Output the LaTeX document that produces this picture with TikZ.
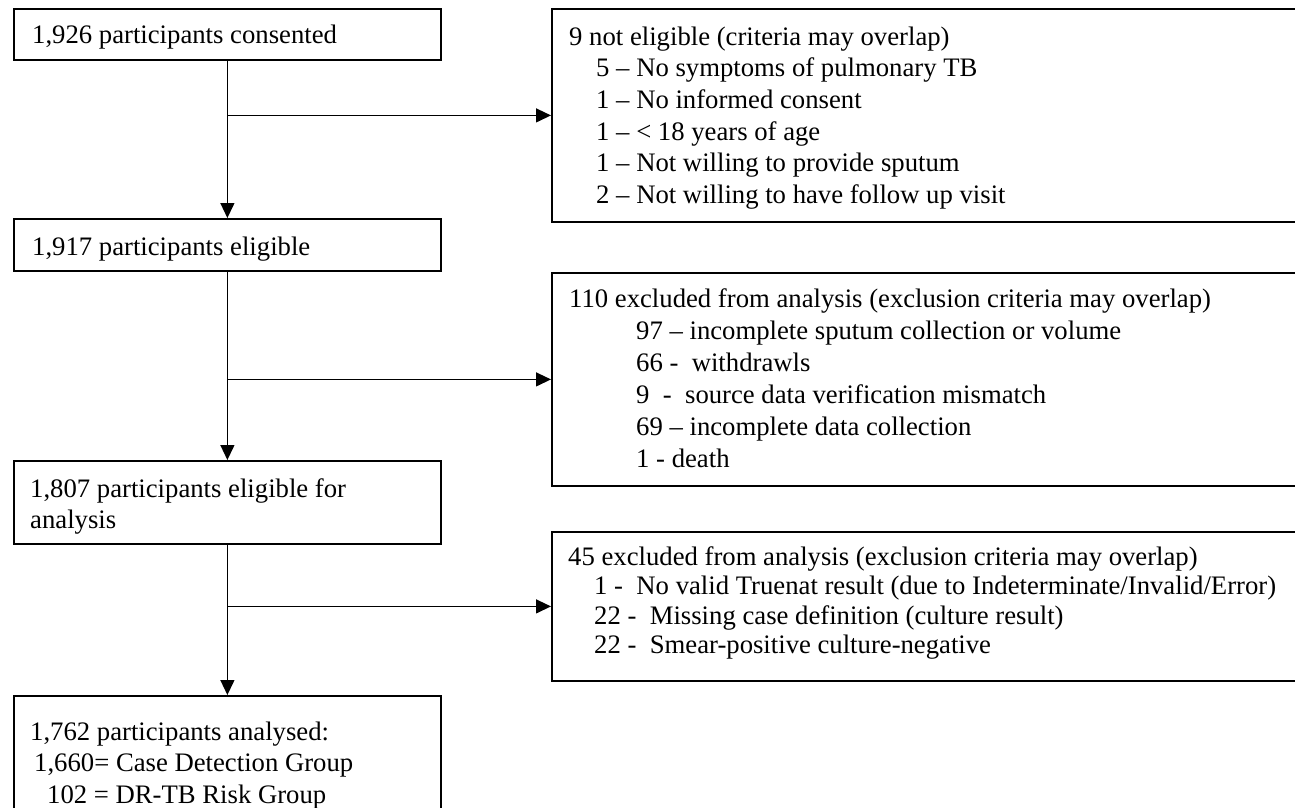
\documentclass[tikz,border=0pt]{standalone}
\usepackage{fontspec}
\setmainfont{Liberation Serif}
\usetikzlibrary{arrows.meta}
\begin{document}
\begin{tikzpicture}[x=1pt,y=-1pt,
  box/.style={draw, line width=1.8pt, rectangle, inner sep=0pt, anchor=north west},
  lbl/.style={inner sep=0pt, anchor=north west, align=left},
  fsa/.style={font={\fontsize{26.7pt}{31.6pt}\selectfont}},
  fsb/.style={font={\fontsize{26.7pt}{32pt}\selectfont}},
  fsc/.style={font={\fontsize{26.7pt}{29.5pt}\selectfont}},
  fsd/.style={font={\fontsize{26.7pt}{31pt}\selectfont}},
  fse/.style={font={\fontsize{26.7pt}{31.5pt}\selectfont}},
  conn/.style={line width=1.3pt, -{Triangle[length=15pt,width=14pt]}},
  ]
\useasboundingbox (0,0) rectangle (1295,807);
\clip (0,0) rectangle (1295,807);

% left column boxes
\node[box, minimum width=427pt, minimum height=51pt] (A) at (13,8) {};
\node[box, minimum width=427pt, minimum height=52pt] (B) at (13,218) {};
\node[box, minimum width=427pt, minimum height=83pt] (C) at (13,460) {};
\node[box, minimum width=427pt, minimum height=150pt] (D) at (13,695) {};

% right column boxes
\node[box, minimum width=800pt, minimum height=213pt] (R1) at (551,8) {};
\node[box, minimum width=800pt, minimum height=213pt] (R2) at (551,272) {};
\node[box, minimum width=800pt, minimum height=149pt] (R3) at (551,531) {};

% texts
\node[lbl, fsa] (tA) at (32,20.9) {\strut 1,926 participants consented};
\node[lbl, fsa] (tB) at (32,232.9) {\strut 1,917 participants eligible};
\node[lbl, fsd] (tC) at (30,475.3) {\strut 1,807 participants eligible for\\analysis};
\node[lbl, fse] (tD) at (30,718) {\strut 1,762 participants analysed:\\
\hspace*{4pt}1,660= Case Detection Group\\
\hspace*{17pt}102 = DR-TB Risk Group};

\node[lbl, fsa] (tR1) at (569,22.9) {\strut 9 not eligible (criteria may overlap)\\
\hspace*{27pt}5 – No symptoms of pulmonary TB\\
\hspace*{27pt}1 – No informed consent\\
\hspace*{27pt}1 – < 18 years of age\\
\hspace*{27pt}1 – Not willing to provide sputum\\
\hspace*{27pt}2 – Not willing to have follow up visit};

\node[lbl, fsb] (tR2) at (569,284.6) {\strut 110 excluded from analysis (exclusion criteria may overlap)\\
\hspace*{67pt}97 – incomplete sputum collection or volume\\
\hspace*{67pt}66 - \ withdrawls\\
\hspace*{67pt}9 \ - \ source data verification mismatch\\
\hspace*{67pt}69 – incomplete data collection\\
\hspace*{67pt}1 - death};

\node[lbl, fsc] (tR3) at (568,544.35) {\strut 45 excluded from analysis (exclusion criteria may overlap)\\
\hspace*{26pt}1 - \ No valid Truenat result (due to Indeterminate/Invalid/Error)\\
\hspace*{26pt}22 - \ Missing case definition (culture result)\\
\hspace*{26pt}22 - \ Smear-positive culture-negative};

% connectors
\draw[conn] (A.south) -- (B.north);
\draw[conn] (B.south) -- (C.north);
\draw[conn] (C.south) -- (D.north);
\coordinate (j1) at (A.south |- R1.west);
\coordinate (j2) at (B.south |- R2.west);
\coordinate (j3) at (C.south |- R3.west);
\draw[conn] (j1) -- (R1.west);
\draw[conn] (j2) -- (R2.west);
\draw[conn] (j3) -- (R3.west);
\end{tikzpicture}
\end{document}
